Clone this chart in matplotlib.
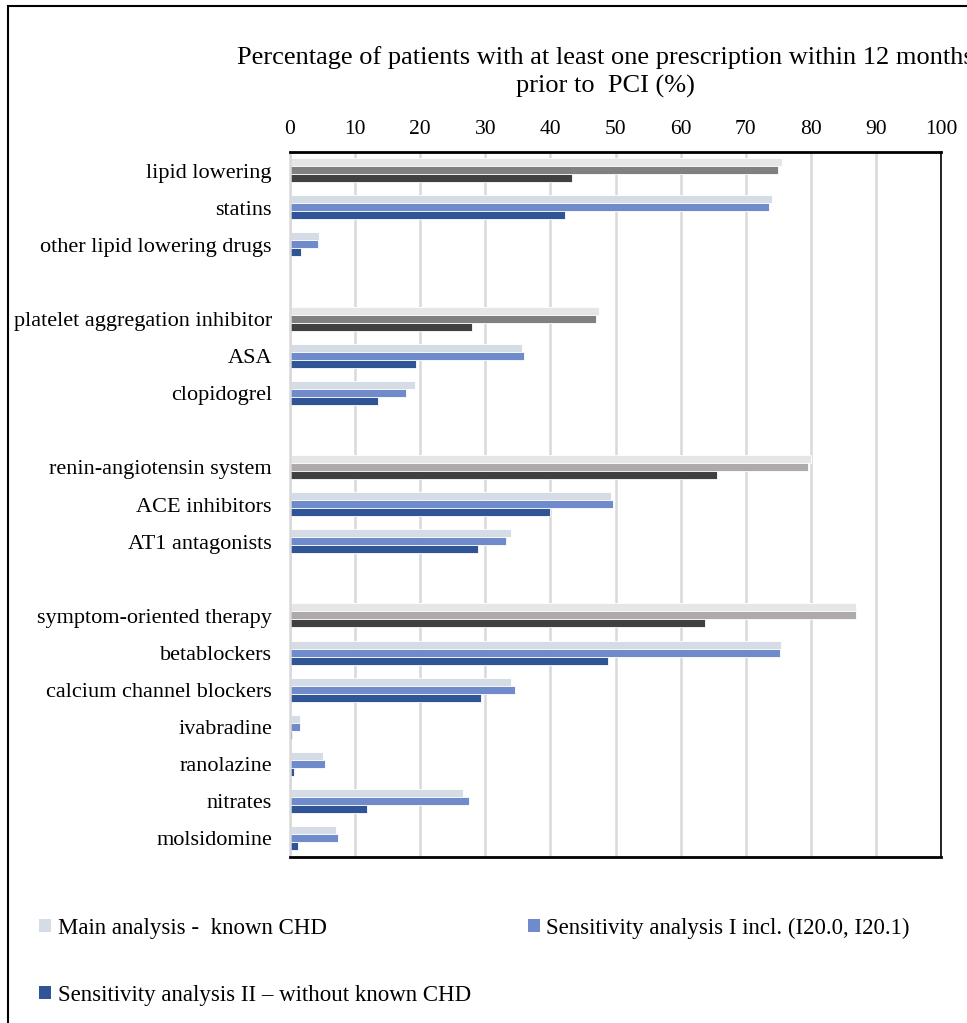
import matplotlib.pyplot as plt
from matplotlib.patches import Patch, Rectangle

plt.rcParams['font.family'] = ['Liberation Serif', 'DejaVu Serif']

# drug classes, listed top to bottom; blank rows separate the four blocks
drugs = ['lipid lowering', 'statins', 'other lipid lowering drugs',
         'platelet aggregation inhibitor', 'ASA', 'clopidogrel',
         'renin-angiotensin system', 'ACE inhibitors', 'AT1 antagonists',
         'symptom-oriented therapy', 'betablockers', 'calcium channel blockers',
         'ivabradine', 'ranolazine', 'nitrates', 'molsidomine']
block_sizes = [3, 3, 3, 7]
headers = ['lipid lowering', 'platelet aggregation inhibitor',
           'renin-angiotensin system', 'symptom-oriented therapy']

main = [75.6, 74.1, 4.4, 47.4, 35.7, 19.2, 80.1, 49.3, 33.9,
        87.0, 75.4, 33.9, 1.5, 5.1, 26.5, 7.1]
sens1 = [75.0, 73.6, 4.3, 47.0, 35.9, 17.8, 79.6, 49.6, 33.2,
         87.0, 75.3, 34.5, 1.6, 5.3, 27.5, 7.4]
sens2 = [43.3, 42.3, 1.7, 27.9, 19.4, 13.5, 65.6, 40.0, 28.9,
         63.8, 48.8, 29.4, 0.3, 0.6, 11.8, 1.2]

series_labels = ['Main analysis -  known CHD',
                 'Sensitivity analysis I incl. (I20.0, I20.1)',
                 'Sensitivity analysis II \u2013 without known CHD']
blue = ['#d6dce5', '#6f8bcb', '#2f5597']
grey_dark = ['#e7e6e6', '#808080', '#404040']
grey_light = ['#e7e6e6', '#aeaaaa', '#404040']

# row positions with an empty row between blocks
rows = []
r = 0
for size in block_sizes:
    rows += list(range(r, r + size))
    r += size + 1
n_rows = r - 1

fig = plt.figure(figsize=(9.67, 10.23), dpi=100)
W, H = 967, 1023
ax = fig.add_axes([290 / W, 1 - 857 / H, (941 - 290) / W, (857 - 152) / H])

h = 0.215
offsets = [-0.225, -0.01, 0.205]
for i, name in enumerate(drugs):
    if name in headers:
        cols = grey_dark if headers.index(name) < 2 else grey_light
    else:
        cols = blue
    for k, vals in enumerate([main, sens1, sens2]):
        ax.barh(rows[i] + offsets[k], vals[i], height=h, color=cols[k],
                edgecolor='white', linewidth=0.6, zorder=2)

ax.set_ylim(n_rows - 0.5, -0.5)
ax.set_xlim(0, 100)
ax.set_yticks(rows)
ax.set_yticklabels(drugs, fontsize=16)
ax.set_xticks(range(0, 101, 10))
ax.xaxis.tick_top()
ax.tick_params(axis='x', labelsize=15.5, length=0, pad=9)
ax.tick_params(axis='y', length=0, pad=13)
ax.grid(axis='x', color='#d9d9d9', linewidth=1.8, zorder=0)
ax.set_axisbelow(True)

for side in ['top', 'bottom']:
    ax.spines[side].set_linewidth(2.0)
ax.spines['right'].set_linewidth(1.2)
ax.spines['left'].set_color('#d9d9d9')
ax.spines['left'].set_linewidth(1.8)

fig.text(605 / W, 1 - 72 / H,
         'Percentage of patients with at least one prescription within 12 months\nprior to  PCI (%)',
         ha='center', va='center', fontsize=19, linespacing=1.35)

handles = [Patch(facecolor=c, edgecolor='none') for c in blue]
fig.legend(handles[:2], series_labels[:2], loc='center left',
           bbox_to_anchor=(30 / W, 1 - 928 / H), ncol=2, frameon=False,
           fontsize=16.5, handlelength=0.5, handleheight=0.5,
           handletextpad=0.3, columnspacing=8.8, borderaxespad=0)
fig.legend(handles[2:], series_labels[2:], loc='center left',
           bbox_to_anchor=(30 / W, 1 - 995 / H), frameon=False,
           fontsize=16.5, handlelength=0.5, handleheight=0.5,
           handletextpad=0.3, borderaxespad=0)

# outer frame around the whole figure
fig.patches.append(Rectangle((8 / W, -0.05), 1.1, 1 - 6 / H + 0.05,
                             transform=fig.transFigure, fill=False,
                             edgecolor='black', linewidth=1.5))

fig.savefig('out.png', dpi=100)
